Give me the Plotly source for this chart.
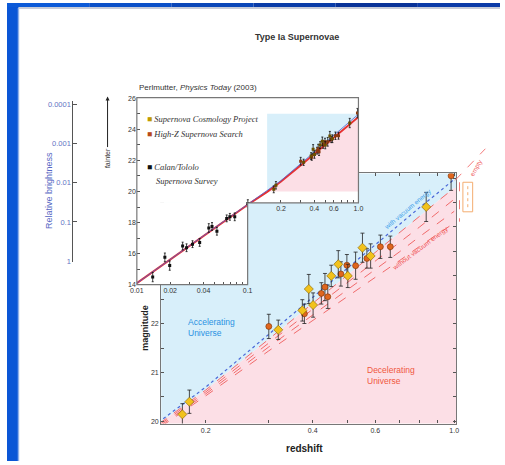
import math
import plotly.graph_objects as go

W, H = 505, 465

# ---------------- data ----------------
# high-redshift supernovae (main panel), Supernova Cosmology Project
scp_z = [0.172, 0.180, 0.320, 0.374, 0.390, 0.401, 0.451, 0.472, 0.502, 0.552, 0.582, 0.834]
scp_m = [20.14, 20.40, 21.88, 22.28, 22.72, 22.39, 22.99, 23.23, 22.99, 23.57, 23.40, 24.41]
scp_err = [0.22, 0.24, 0.20, 0.22, 0.30, 0.25, 0.22, 0.28, 0.24, 0.30, 0.25, 0.30]
# High-Z Supernova Search
hz_z = [0.301, 0.379, 0.423, 0.433, 0.441, 0.480, 0.499, 0.528, 0.568, 0.620, 0.661, 0.980]
hz_m = [21.95, 22.21, 22.63, 22.76, 22.56, 23.03, 23.21, 23.20, 23.35, 23.59, 23.59, 25.05]
hz_err = [0.25, 0.20, 0.22, 0.28, 0.24, 0.25, 0.22, 0.28, 0.20, 0.24, 0.22, 0.30]
# Calan/Tololo low-redshift supernovae (inset)
ct_z = [0.0139, 0.0179, 0.0198, 0.0259, 0.0281, 0.0318, 0.0369, 0.0446, 0.0477, 0.0528, 0.0647, 0.0691, 0.0765, 0.1004]
ct_m = [14.49, 15.76, 15.23, 16.49, 16.38, 16.61, 16.72, 17.65, 17.75, 17.44, 18.27, 18.37, 18.37, 19.22]
ct_err = [0.30, 0.28, 0.30, 0.25, 0.25, 0.22, 0.25, 0.28, 0.25, 0.25, 0.22, 0.22, 0.25, 0.25]

# model curves
curve_z = [0.01, 0.02, 0.04, 0.07, 0.1, 0.15, 0.2, 0.3, 0.4, 0.5, 0.6, 0.7, 0.8, 0.9, 1.0]
with_vac_m = [14.10, 15.62, 17.14, 18.38, 19.17, 20.02, 20.70, 21.78, 22.55, 23.15, 23.63, 24.05, 24.40, 24.70, 24.98]
empty_m = [14.10, 15.62, 17.14, 18.37, 19.15, 19.98, 20.64, 21.68, 22.42, 23.00, 23.47, 23.87, 24.22, 24.53, 24.80]
novac2_m = [14.10, 15.62, 17.13, 18.36, 19.13, 19.95, 20.60, 21.60, 22.30, 22.86, 23.30, 23.68, 24.00, 24.30, 24.57]
novac3_m = [14.10, 15.61, 17.12, 18.35, 19.11, 19.92, 20.56, 21.52, 22.18, 22.70, 23.12, 23.48, 23.80, 24.07, 24.32]
novac4_m = [14.10, 15.61, 17.11, 18.34, 19.09, 19.89, 20.52, 21.44, 22.07, 22.56, 22.95, 23.30, 23.60, 23.85, 24.08]

# axis ranges / ticks
main_z_range = (0.15, 1.012)
main_m_range = (19.95, 25.1)
zoom_z = (0.15, 1.0)      # region of the inset shown in the main panel
zoom_m = (20.0, 25.0)
inset_m_range = (14.0, 26.05)
inset_logz_range = (-2.0, 0.0)
main_xticks = [0.2, 0.3, 0.4, 0.5, 0.6, 0.7, 0.8, 0.9, 1.0]
main_xtext = ["0.2", "", "0.4", "", "0.6", "", "", "", "1.0"]
main_yticks = [20, 20.5, 21, 21.5, 22, 22.5, 23, 23.5, 24, 24.5, 25]
main_ytext = ["20", "", "21", "", "22", "", "", "", "", "", ""]
inset_lo_xticks = [0.01, 0.02, 0.03, 0.04, 0.05, 0.06, 0.07, 0.08, 0.09, 0.1]
inset_lo_xtext = ["0.01", "0.02", "", "0.04", "", "", "", "", "", "0.1"]
inset_yticks = [14, 15, 16, 17, 18, 19, 20, 21, 22, 23, 24, 25, 26]
inset_ytext = ["14", "", "16", "", "18", "", "20", "", "22", "", "24", "", "26"]
bright_vals = [1, 0.1, 0.01, 0.001, 0.0001]
bright_text = ["1", "0.1", "0.01", "0.001", "0.0001"]

# ---------------- layout helpers (pixels -> paper) ----------------
def fx(p):
    return p / W

def fy(p):
    return 1 - p / H

MAIN_L, MAIN_R, MAIN_T, MAIN_B = 158, 460, 173, 427
IN_L, IN_R, IN_T, IN_B = 133, 360, 96, 286
IN_SPLIT_X = IN_L + (IN_R - IN_L) * ((-1 - inset_logz_range[0]) / (inset_logz_range[1] - inset_logz_range[0]))
IN_SPLIT_Y = 203
m_split = inset_m_range[0] + (IN_B - IN_SPLIT_Y) * (inset_m_range[1] - inset_m_range[0]) / (IN_B - IN_T)
BR_X = 68

FONT = "Liberation Sans"
BLUE_FILL = "#d8effa"
PINK_FILL = "#fcdfe6"
RED_LINE = "#f06a6a"
BLUE_LINE = "#4a68d8"

fig = go.Figure()

# ---------------- main panel ----------------
big = main_z_range[1] * 1.01
fig.add_trace(go.Scatter(x=curve_z + [big, big, curve_z[0]], y=empty_m + [empty_m[-1], 26.5, 26.5],
                         fill="toself", fillcolor=BLUE_FILL, mode="lines", line=dict(width=0),
                         hoverinfo="skip", showlegend=False))
fig.add_trace(go.Scatter(x=curve_z + [big, big, curve_z[0]], y=empty_m + [empty_m[-1], 18.0, 18.0],
                         fill="toself", fillcolor=PINK_FILL, mode="lines", line=dict(width=0),
                         hoverinfo="skip", showlegend=False))
for mm in [novac4_m, novac3_m, novac2_m, empty_m]:
    fig.add_trace(go.Scatter(x=curve_z, y=mm, mode="lines", line=dict(color=RED_LINE, width=1, dash="dash"),
                             showlegend=False))
fig.add_trace(go.Scatter(x=curve_z, y=with_vac_m, mode="lines", line=dict(color=BLUE_LINE, width=1.2, dash="dot"),
                         showlegend=False))
err_style = dict(type="data", visible=True, color="#222", thickness=0.8, width=2)
fig.add_trace(go.Scatter(x=hz_z, y=hz_m, mode="markers",
                         error_y=dict(array=hz_err, **err_style),
                         marker=dict(symbol="circle", size=6, color="#e0661e", line=dict(color="#7a3000", width=0.6)),
                         showlegend=False))
fig.add_trace(go.Scatter(x=scp_z, y=scp_m, mode="markers",
                         error_y=dict(array=scp_err, **err_style),
                         marker=dict(symbol="diamond", size=7, color="#f2c21c", line=dict(color="#806000", width=0.6)),
                         showlegend=False))

# ---------------- inset (two pieces sharing one scale) ----------------
zi = [i for i, z in enumerate(curve_z) if zoom_z[0] <= z <= zoom_z[1]]
zz = [curve_z[i] for i in zi]
ze = [empty_m[i] for i in zi]
fig.add_trace(go.Scatter(x=zz + [zoom_z[1], zoom_z[0]], y=ze + [zoom_m[1], zoom_m[1]], fill="toself",
                         fillcolor=BLUE_FILL, mode="lines", line=dict(width=0), hoverinfo="skip",
                         showlegend=False, xaxis="x2", yaxis="y2"))
fig.add_trace(go.Scatter(x=zz + [zoom_z[1], zoom_z[0]], y=ze + [zoom_m[0], zoom_m[0]], fill="toself",
                         fillcolor=PINK_FILL, mode="lines", line=dict(width=0), hoverinfo="skip",
                         showlegend=False, xaxis="x2", yaxis="y2"))
ierr = dict(type="data", visible=True, color="#111", thickness=0.8, width=1)
for xa, ya in [("x2", "y2"), ("x3", "y3")]:
    fig.add_trace(go.Scatter(x=curve_z, y=empty_m, mode="lines", line=dict(color="#e63232", width=2),
                             showlegend=False, xaxis=xa, yaxis=ya))
    fig.add_trace(go.Scatter(x=curve_z, y=with_vac_m, mode="lines", line=dict(color="#5060d0", width=0.8),
                             showlegend=False, xaxis=xa, yaxis=ya))
    fig.add_trace(go.Scatter(x=ct_z, y=ct_m, mode="markers", error_y=dict(array=ct_err, **ierr),
                             marker=dict(symbol="square", size=3, color="#111"),
                             showlegend=False, xaxis=xa, yaxis=ya))
    fig.add_trace(go.Scatter(x=hz_z, y=hz_m, mode="markers", error_y=dict(array=hz_err, **ierr),
                             marker=dict(symbol="square", size=3, color="#8a3a10"),
                             showlegend=False, xaxis=xa, yaxis=ya))
    fig.add_trace(go.Scatter(x=scp_z, y=scp_m, mode="markers", error_y=dict(array=scp_err, **ierr),
                             marker=dict(symbol="square", size=3, color="#6a5000"),
                             showlegend=False, xaxis=xa, yaxis=ya))

# brightness axis carrier
fig.add_trace(go.Scatter(x=[None], y=[None], xaxis="x4", yaxis="y4", showlegend=False))

tickfont = dict(family=FONT, size=7, color="#333")
common = dict(showgrid=False, zeroline=False, tickfont=tickfont, tickcolor="#555", ticks="inside")

lg = math.log10
layout = dict(
    width=W, height=H, margin=dict(l=0, r=0, t=0, b=0),
    paper_bgcolor="white", plot_bgcolor="white", showlegend=False,
    font=dict(family=FONT, color="#222"),
    xaxis=dict(domain=[fx(MAIN_L), fx(MAIN_R)], type="log", range=[lg(main_z_range[0]), lg(main_z_range[1])],
               tickvals=main_xticks, ticktext=main_xtext, showline=True, linecolor="#777", linewidth=1.2,
               mirror="ticks", ticklen=3, anchor="y", **common),
    yaxis=dict(domain=[fy(MAIN_B), fy(MAIN_T)], range=list(main_m_range), tickvals=main_yticks,
               ticktext=main_ytext, showline=True, linecolor="#777", linewidth=1.2, mirror="ticks",
               ticklen=3, anchor="x", **common),
    xaxis2=dict(domain=[fx(IN_L), fx(IN_R)], type="log", range=list(inset_logz_range),
                tickvals=main_xticks, ticktext=main_xtext, ticklen=3, anchor="y2", **common),
    yaxis2=dict(domain=[fy(IN_SPLIT_Y), fy(IN_T)], range=[m_split, inset_m_range[1]],
                tickvals=inset_yticks, ticktext=inset_ytext, ticklen=3, anchor="x2", **common),
    xaxis3=dict(domain=[fx(IN_L), fx(IN_SPLIT_X)], type="log", range=[inset_logz_range[0], -1],
                tickvals=inset_lo_xticks, ticktext=inset_lo_xtext, ticklen=3, anchor="y3", **common),
    yaxis3=dict(domain=[fy(IN_B), fy(IN_SPLIT_Y)], range=[inset_m_range[0], m_split],
                tickvals=inset_yticks, ticktext=inset_ytext, ticklen=3, anchor="x3", **common),
    xaxis4=dict(domain=[fx(BR_X), fx(BR_X + 10)], visible=False, anchor="y4"),
    yaxis4=dict(domain=[fy(263), fy(100)], type="log", range=[0.025, -4.075], anchor="x4",
                tickvals=bright_vals, ticktext=bright_text, showline=True, linecolor="#555",
                ticks="inside", ticklen=4, tickcolor="#555", showgrid=False, zeroline=False,
                tickfont=dict(family=FONT, size=7.5, color="#6474c4")),
)
fig.update_layout(**layout)

# ---------------- frames & slide decoration ----------------
shapes = []
shapes.append(dict(type="rect", xref="paper", yref="paper", x0=0, x1=fx(12), y0=0, y1=1,
                   fillcolor="#0a56d6", line=dict(width=0), layer="below"))
shapes.append(dict(type="rect", xref="paper", yref="paper", x0=fx(11), x1=fx(12.5), y0=0, y1=fy(5),
                   fillcolor="#8fb0ea", line=dict(width=0), layer="below"))
bar_cols = ["#0c5ad8", "#0b50c8", "#0a46b8", "#093ca8", "#083298", "#0a3aa8"]
for i, c in enumerate(bar_cols):
    shapes.append(dict(type="rect", xref="paper", yref="paper", x0=i / len(bar_cols), x1=(i + 1) / len(bar_cols),
                       y0=fy(4), y1=1, fillcolor=c, line=dict(width=0), layer="below"))
shapes.append(dict(type="rect", xref="paper", yref="paper", x0=fx(12), x1=1, y0=fy(6), y1=fy(4),
                   fillcolor="#c8ccd8", line=dict(width=0), layer="below"))
path = "M {a},{b} L {c},{b} L {c},{d} L {e},{d} L {e},{f} L {a},{f} Z".format(
    a=fx(IN_L), b=fy(IN_T), c=fx(IN_R), d=fy(IN_SPLIT_Y), e=fx(IN_SPLIT_X), f=fy(IN_B))
shapes.append(dict(type="path", xref="paper", yref="paper", path=path, line=dict(color="#777", width=1.2)))
shapes.append(dict(type="line", xref="paper", yref="paper", x0=fx(459), y0=fy(180), x1=fx(490), y1=fy(148),
                   line=dict(color="#f47a7a", width=1, dash="dash")))
shapes.append(dict(type="line", xref="paper", yref="paper", x0=fx(463.5), y0=fy(182), x1=fx(463.5), y1=fy(222),
                   line=dict(color="#f47a7a", width=1, dash="dash")))
shapes.append(dict(type="rect", xref="paper", yref="paper", x0=fx(467), x1=fx(477), y0=fy(212), y1=fy(182),
                   line=dict(color="#f4ad70", width=1)))
shapes.append(dict(type="line", xref="paper", yref="paper", x0=fx(472), y0=fy(186), x1=fx(472), y1=fy(208),
                   line=dict(color="#f4ad70", width=1, dash="dot")))
fig.update_layout(shapes=shapes)

# ---------------- text ----------------
def ann(text, x, y, size=8, color="#222", angle=0, xanchor="center", family=FONT, align="center"):
    return dict(text=text, x=fx(x), y=fy(y), xref="paper", yref="paper", showarrow=False,
                xanchor=xanchor, yanchor="middle", textangle=angle, align=align,
                font=dict(size=size, color=color, family=family))

SERIF = "Liberation Serif"
anns = [
    ann("<b>Type Ia Supernovae</b>", 297, 35, size=9, color="#333"),
    ann("Perlmutter, <i>Physics Today</i> (2003)", 133, 86, size=8, color="#333", xanchor="left"),
    ann("<span style='color:#c09a00'>■</span> <i>Supernova Cosmology Project</i>", 141, 118, size=8.5,
        color="#333", xanchor="left", family=SERIF),
    ann("<span style='color:#b84a18'>■</span> <i>High-Z Supernova Search</i>", 141, 133, size=8.5,
        color="#333", xanchor="left", family=SERIF),
    ann("<span style='color:#111'>■</span> <i>Calan/Tololo</i>", 141, 167, size=8.5,
        color="#333", xanchor="left", family=SERIF),
    ann("<i>Supernova Survey</i>", 151, 181, size=8.5, color="#333", xanchor="left", family=SERIF),
    ann("Relative brightness", 43, 190, size=9, color="#5868c4", angle=-90),
    ann("<b>magnitude</b>", 141, 330, size=9, color="#222", angle=-90),
    ann("<b>redshift</b>", 305, 452, size=10, color="#222"),
    ann("Accelerating<br>Universe", 183, 329, size=8.5, color="#2a92e2", xanchor="left", align="left"),
    ann("Decelerating<br>Universe", 367, 378, size=8.5, color="#f0583e", xanchor="left", align="left"),
    ann("with vacuum energy", 411, 209, size=6.5, color="#3aa0ea", angle=-40),
    ann("without vacuum energy", 424, 249, size=6.5, color="#f05050", angle=-37),
    ann("empty", 481, 168, size=6.5, color="#f06868", angle=-60),
]
anns.append(dict(text="fainter", x=fx(103), y=fy(95), xref="paper", yref="paper", showarrow=True,
                 arrowhead=2, arrowsize=0.8, arrowwidth=1, arrowcolor="#222", ax=0, ay=62,
                 textangle=-90, font=dict(size=7, color="#333", family=FONT)))
fig.update_layout(annotations=anns)

fig.write_html("out.html")
